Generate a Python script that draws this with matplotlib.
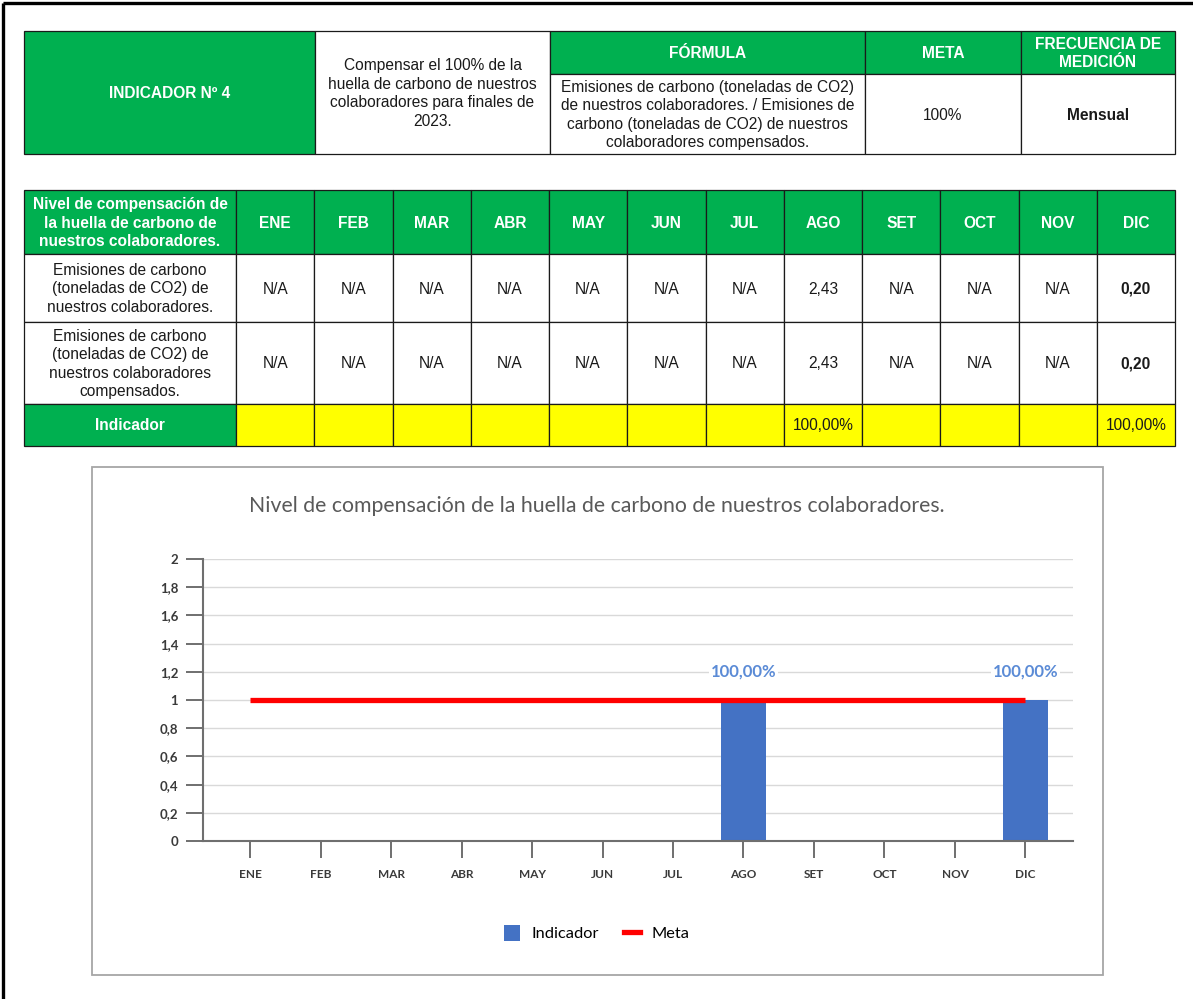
import matplotlib
matplotlib.use("Agg")
import matplotlib.pyplot as plt
import numpy as np
from matplotlib.patches import Rectangle, Patch
from matplotlib.lines import Line2D

plt.rcParams["font.family"] = ["Liberation Sans", "DejaVu Sans"]

# ---- data ----
meses = ["ENE", "FEB", "MAR", "ABR", "MAY", "JUN", "JUL", "AGO", "SET", "OCT", "NOV", "DIC"]
emisiones = ["N/A", "N/A", "N/A", "N/A", "N/A", "N/A", "N/A", "2,43", "N/A", "N/A", "N/A", "0,20"]
compensadas = ["N/A", "N/A", "N/A", "N/A", "N/A", "N/A", "N/A", "2,43", "N/A", "N/A", "N/A", "0,20"]
indicador = [np.nan, np.nan, np.nan, np.nan, np.nan, np.nan, np.nan, 1.0, np.nan, np.nan, np.nan, 1.0]
meta = [1, 1, 1, 1, 1, 1, 1, 1, 1, 1, 1, 1]
y_ticks = [0, 0.2, 0.4, 0.6, 0.8, 1.0, 1.2, 1.4, 1.6, 1.8, 2.0]

GREEN = "#00b050"
YELLOW = "#ffff00"
BLUE = "#4472c4"
W, H = 1193, 999


def fmt_num(v):
    s = f"{v:.1f}".replace(".", ",")
    return s[:-2] if s.endswith(",0") else s


def fmt_pct(v):
    return f"{v * 100:.2f}%".replace(".", ",")


fig = plt.figure(figsize=(W / 100, H / 100), dpi=100)
fig.patch.set_facecolor("white")

bg = fig.add_axes([0, 0, 1, 1])
bg.set_xlim(0, W)
bg.set_ylim(H, 0)
bg.set_axis_off()

# outer frame of the sheet
bg.plot([3, 3], [3, H], color="black", lw=2.4, solid_capstyle="butt")
bg.plot([3, W], [3, 3], color="black", lw=2.4, solid_capstyle="butt")


def cell(x0, x1, y0, y1, fc, txt="", color="#1a1a1a", bold=False, size=11.2, ls=1.3):
    bg.add_patch(Rectangle((x0, y0), x1 - x0, y1 - y0, facecolor=fc, edgecolor="#1a1a1a", lw=0.9))
    if txt:
        bg.text((x0 + x1) / 2, (y0 + y1) / 2 + 1, txt, ha="center", va="center", multialignment="center",
                fontsize=size, color=color, fontweight="bold" if bold else "normal", linespacing=ls)


# ---- top table ----
cell(24, 315, 31, 154, GREEN, "INDICADOR Nº 4", "white", True)
cell(315, 550, 31, 154, "white", "Compensar el 100% de la\nhuella de carbono de nuestros\ncolaboradores para finales de\n2023.")
cell(550, 865, 31, 74, GREEN, "FÓRMULA", "white", True)
cell(550, 865, 74, 154, "white", "Emisiones de carbono (toneladas de CO2)\nde nuestros colaboradores. / Emisiones de\n"
     "carbono (toneladas de CO2) de nuestros\ncolaboradores compensados.")
cell(865, 1021, 31, 74, GREEN, "META", "white", True)
cell(865, 1021, 74, 154, "white", "100%")
cell(1021, 1175, 31, 74, GREEN, "FRECUENCIA DE\nMEDICIÓN", "white", True, ls=1.2)
cell(1021, 1175, 74, 154, "white", "Mensual", bold=True)

# ---- monthly table ----
col_edges = np.linspace(236, 1175, len(meses) + 1)
rows = [190, 254, 322, 404, 446]
cell(24, 236, rows[0], rows[1], GREEN, "Nivel de compensación de\nla huella de carbono de\nnuestros colaboradores.",
     "white", True)
cell(24, 236, rows[1], rows[2], "white", "Emisiones de carbono\n(toneladas de CO2) de\nnuestros colaboradores.")
cell(24, 236, rows[2], rows[3], "white", "Emisiones de carbono\n(toneladas de CO2) de\nnuestros colaboradores\ncompensados.")
cell(24, 236, rows[3], rows[4], GREEN, "Indicador", "white", True)
for i, m in enumerate(meses):
    x0, x1 = col_edges[i], col_edges[i + 1]
    cell(x0, x1, rows[0], rows[1], GREEN, m, "white", True)
    cell(x0, x1, rows[1], rows[2], "white", emisiones[i], bold=(i == len(meses) - 1))
    cell(x0, x1, rows[2], rows[3], "white", compensadas[i], bold=(i == len(meses) - 1))
    txt = "" if np.isnan(indicador[i]) else fmt_pct(indicador[i])
    cell(x0, x1, rows[3], rows[4], YELLOW, txt)

# ---- chart ----
bg.add_patch(Rectangle((92, 467), 1103 - 92, 975 - 467, facecolor="white", edgecolor="#a6a6a6", lw=1.3))
fig.text(597 / W, 1 - 506 / H, "Nivel de compensación de la huella de carbono de nuestros colaboradores.",
         ha="center", va="center", fontsize=15.3, color="#595959", family="Lato")

ax = fig.add_axes([202.5 / W, 1 - 841 / H, (1073 - 202.5) / W, (841 - 559) / H], facecolor="none")
x = np.arange(len(meses))
ax.bar(x, indicador, width=0.645, color=BLUE, zorder=2)
ax.plot(x, meta, color="#ff0000", lw=3.8, solid_capstyle="butt", zorder=3)
for i, v in enumerate(indicador):
    if not np.isnan(v):
        ax.text(i, v + 0.2, fmt_pct(v), ha="center", va="center", fontsize=12, fontweight="bold",
                color="#5b8bd6", family="Lato", zorder=4,
                bbox=dict(facecolor="white", edgecolor="none", pad=1.0))

ax.set_xlim(-0.674, len(meses) - 1 + 0.674)
ax.set_ylim(0, 2)
ax.set_yticks(y_ticks)
ax.set_yticklabels([fmt_num(v) for v in y_ticks])
ax.set_xticks(x)
ax.set_xticklabels(meses)
ax.grid(axis="y", color="#d9d9d9", lw=1.0)
ax.set_axisbelow(True)
for sp in ["top", "right"]:
    ax.spines[sp].set_visible(False)
for sp in ["left", "bottom"]:
    ax.spines[sp].set_color("#6f6f6f")
    ax.spines[sp].set_linewidth(1.5)
ax.tick_params(axis="both", length=12.5, width=1.4, color="#6f6f6f", labelcolor="#3a3a3a")
ax.tick_params(axis="y", pad=5)
ax.tick_params(axis="x", pad=8)
for lab in ax.get_yticklabels():
    lab.set_fontsize(9.5)
    lab.set_fontweight("bold")
    lab.set_family("Lato")
for lab in ax.get_xticklabels():
    lab.set_fontsize(8.5)
    lab.set_fontweight("bold")
    lab.set_family("Lato")

handles = [Patch(facecolor=BLUE, edgecolor="none"), Line2D([0], [0], color="#ff0000", lw=3.8)]
ax.legend(handles, ["Indicador", "Meta"], loc="center", bbox_to_anchor=(597 / W, 1 - 933 / H),
          bbox_transform=fig.transFigure, ncol=2, frameon=False, handlelength=0.95, handleheight=1.1,
          columnspacing=1.5, handletextpad=0.75, prop={"family": "Lato", "size": 11.8})

fig.savefig("out.png", dpi=100)
